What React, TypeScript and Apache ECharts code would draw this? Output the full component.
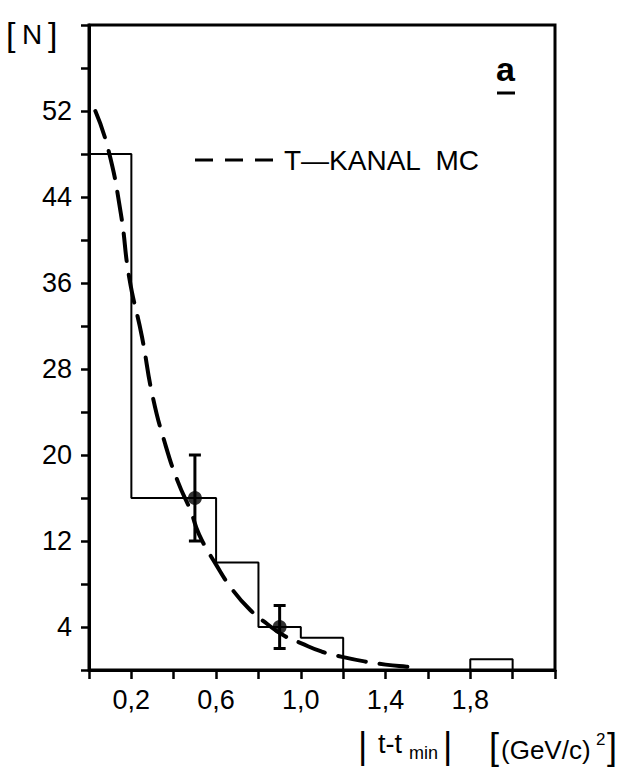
import React, { useEffect, useRef } from "react";
import * as echarts from "echarts";

// Histogram bins (|t - t_min| in (GeV/c)^2) and counts
const binEdges = [0, 0.2, 0.6, 0.8, 1.0, 1.2, 1.8, 2.0];
const binCounts = [48, 16, 10, 4, 3, 0, 1];

// Data points with error bars: [x, y, low, high]
const pointX = [0.5, 0.9];
const pointY = [16, 4];
const pointLow = [12, 2];
const pointHigh = [20, 6];

// T-channel MC curve
const mcX = [0.03, 0.09, 0.15, 0.19, 0.25, 0.3, 0.36, 0.42, 0.48, 0.52, 0.6, 0.68, 0.76, 0.84, 0.92, 1.0, 1.1, 1.2, 1.3, 1.4, 1.5, 1.56];
const mcY = [52, 48.5, 42.5, 36.5, 31, 25.5, 21, 17.5, 14.8, 12.6, 9.8, 7.4, 5.6, 4.3, 3.2, 2.5, 1.7, 1.2, 0.8, 0.5, 0.3, 0.2];

const yLabels = [4, 12, 20, 28, 36, 44, 52];
const xLabels = [0.2, 0.6, 1.0, 1.4, 1.8];

const FONT = "Liberation Sans";

export default function App() {
  const ref = useRef<HTMLDivElement>(null);
  useEffect(() => {
    if (!ref.current) return;
    const chart = echarts.init(ref.current, null, { renderer: "svg" });

    const histData: number[][] = [[binEdges[0], binCounts[0]]];
    for (let i = 0; i < binCounts.length; i++) {
      histData.push([binEdges[i], binCounts[i]]);
      histData.push([binEdges[i + 1], binCounts[i]]);
    }
    histData.push([binEdges[binEdges.length - 1], 0]);

    const mcData = mcX.map((x, i) => [x, mcY[i]]);
    const errData = pointX.map((x, i) => [x, pointY[i], pointLow[i], pointHigh[i]]);
    const ptData = pointX.map((x, i) => [x, pointY[i]]);

    chart.setOption({
      animation: false,
      backgroundColor: "#fff",
      grid: {
        left: 89,
        top: 25,
        right: 71,
        bottom: 100,
        show: true,
        borderColor: "#000",
        borderWidth: 3,
      },
      xAxis: {
        type: "value",
        min: 0,
        max: 2.2,
        interval: 0.2,
        splitLine: { show: false },
        axisLine: { lineStyle: { color: "#000", width: 3 } },
        axisTick: { inside: false, length: 9, lineStyle: { color: "#000", width: 2.5 } },
        axisLabel: {
          color: "#000",
          fontFamily: FONT,
          fontSize: 27,
          margin: 16,
          showMinLabel: true,
          showMaxLabel: true,
          formatter: (v: number) => {
            const r = Math.round(v * 10) / 10;
            return xLabels.some((l) => Math.abs(l - r) < 1e-6) ? r.toFixed(1).replace(".", ",") : "";
          },
        },
      },
      yAxis: {
        type: "value",
        min: 0,
        max: 60,
        interval: 4,
        splitLine: { show: false },
        axisLine: { lineStyle: { color: "#000", width: 3 } },
        axisTick: { inside: false, length: 8, lineStyle: { color: "#000", width: 2.5 } },
        axisLabel: {
          color: "#000",
          fontFamily: FONT,
          fontSize: 27,
          margin: 17,
          formatter: (v: number) => (yLabels.indexOf(Math.round(v)) >= 0 ? String(Math.round(v)) : ""),
        },
      },
      series: [
        {
          type: "line",
          name: "hist",
          data: histData,
          symbol: "none",
          lineStyle: { color: "#000", width: 2 },
          z: 2,
        },
        {
          type: "line",
          name: "T—KANAL  MC",
          data: mcData,
          symbol: "none",
          smooth: true,
          lineStyle: { color: "#000", width: 4, type: [28, 14], cap: "round" },
          z: 3,
        },
        {
          type: "custom",
          name: "err",
          data: errData,
          renderItem: (params: any, api: any) => {
            const x = api.value(0);
            const lo = api.coord([x, api.value(2)]);
            const hi = api.coord([x, api.value(3)]);
            const cap = 6;
            const st = { stroke: "#000", lineWidth: 3 };
            return {
              type: "group",
              children: [
                { type: "line", shape: { x1: lo[0], y1: lo[1], x2: hi[0], y2: hi[1] }, style: st },
                { type: "line", shape: { x1: lo[0] - cap, y1: lo[1], x2: lo[0] + cap, y2: lo[1] }, style: st },
                { type: "line", shape: { x1: hi[0] - cap, y1: hi[1], x2: hi[0] + cap, y2: hi[1] }, style: st },
              ],
            };
          },
          z: 4,
        },
        {
          type: "scatter",
          name: "pts",
          data: ptData,
          symbol: "circle",
          symbolSize: 14,
          itemStyle: { color: "#000" },
          z: 5,
        },
      ],
      graphic: [
        { type: "text", x: 6, y: 34, style: { text: "[", fontFamily: FONT, fontSize: 34, fill: "#000", verticalAlign: "middle" } },
        { type: "text", x: 22, y: 34, style: { text: "N", fontFamily: FONT, fontSize: 28, fill: "#000", verticalAlign: "middle" } },
        { type: "text", x: 48, y: 34, style: { text: "]", fontFamily: FONT, fontSize: 34, fill: "#000", verticalAlign: "middle" } },
        {
          type: "line",
          shape: { x1: 195, y1: 160, x2: 276, y2: 160 },
          style: { stroke: "#000", lineWidth: 3, lineDash: [18, 12] },
        },
        {
          type: "text",
          x: 284,
          y: 160,
          style: { text: "T—KANAL  MC", fontFamily: FONT, fontSize: 28, fill: "#000", verticalAlign: "middle" },
        },
        {
          type: "text",
          x: 496,
          y: 69,
          style: { text: "a", fontFamily: FONT, fontSize: 34, fontWeight: "bold", fill: "#000", verticalAlign: "middle" },
        },
        { type: "line", shape: { x1: 497, y1: 93, x2: 515, y2: 93 }, style: { stroke: "#000", lineWidth: 3 } },
        { type: "text", x: 358, y: 745, style: { text: "|", fontFamily: FONT, fontSize: 36, fill: "#000", verticalAlign: "middle" } },
        { type: "text", x: 378, y: 744, style: { text: "t-t", fontFamily: FONT, fontSize: 27, fill: "#000", verticalAlign: "middle" } },
        { type: "text", x: 409, y: 753, style: { text: "min", fontFamily: FONT, fontSize: 18, fill: "#000", verticalAlign: "middle" } },
        { type: "text", x: 443, y: 745, style: { text: "|", fontFamily: FONT, fontSize: 36, fill: "#000", verticalAlign: "middle" } },
        { type: "text", x: 489, y: 746, style: { text: "[", fontFamily: FONT, fontSize: 36, fill: "#000", verticalAlign: "middle" } },
        { type: "text", x: 501, y: 750, style: { text: "(GeV/c)", fontFamily: FONT, fontSize: 26, fill: "#000", verticalAlign: "middle" } },
        { type: "text", x: 596, y: 739, style: { text: "2", fontFamily: FONT, fontSize: 17, fill: "#000", verticalAlign: "middle" } },
        { type: "text", x: 607, y: 746, style: { text: "]", fontFamily: FONT, fontSize: 36, fill: "#000", verticalAlign: "middle" } },
      ],
    });
    return () => chart.dispose();
  }, []);
  return <div ref={ref} style={{ width: 626, height: 770, position: "absolute", left: 0, top: 0 }} />;
}
